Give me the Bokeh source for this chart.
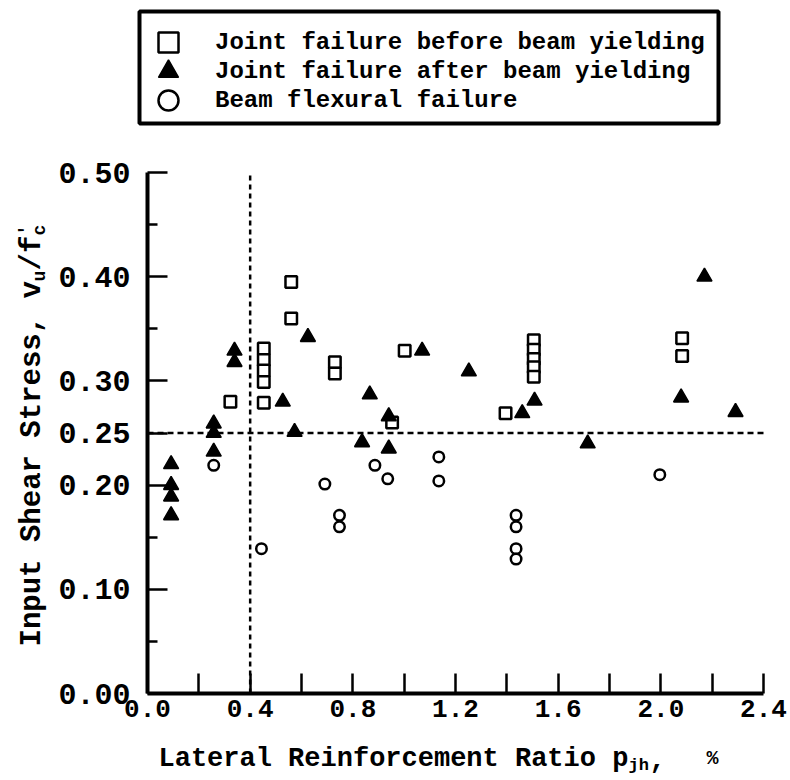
import math
from bokeh.plotting import figure
from bokeh.models import Range1d, FixedTicker, Label, Legend, LegendItem, BoxAnnotation
from bokeh.embed import file_html
from bokeh.resources import INLINE

# ---------------- data ----------------
sq_x = [0.323, 0.453, 0.453, 0.453, 0.453, 0.453, 0.560, 0.560, 0.730, 0.730,
        0.953, 1.002, 1.395, 1.505, 1.505, 1.505, 1.505, 1.505, 2.083, 2.083]
sq_y = [0.280, 0.331, 0.320, 0.310, 0.299, 0.279, 0.395, 0.360, 0.318, 0.307,
        0.260, 0.329, 0.269, 0.339, 0.330, 0.321, 0.313, 0.304, 0.341, 0.324]

tri_x = [0.092, 0.092, 0.092, 0.092, 0.258, 0.258, 0.258, 0.339, 0.339, 0.527,
         0.573, 0.625, 0.836, 0.866, 0.940, 0.940, 1.070, 1.252, 1.460, 1.508,
         1.715, 2.079, 2.170, 2.291]
tri_y = [0.220, 0.200, 0.189, 0.171, 0.259, 0.250, 0.232, 0.329, 0.318, 0.280,
         0.251, 0.342, 0.241, 0.287, 0.266, 0.235, 0.329, 0.309, 0.269, 0.281,
         0.240, 0.284, 0.400, 0.270]

cir_x = [0.258, 0.444, 0.691, 0.748, 0.748, 0.886, 0.936, 1.135, 1.135,
         1.436, 1.436, 1.436, 1.436, 1.996]
cir_y = [0.219, 0.139, 0.201, 0.171, 0.160, 0.219, 0.206, 0.227, 0.204,
         0.171, 0.160, 0.139, 0.129, 0.210]

series_names = ["Joint failure before beam yielding",
                "Joint failure after beam yielding",
                "Beam flexural failure"]

limit_x = 0.4     # vertical dashed reference line
limit_y = 0.25    # horizontal dashed reference line

x_bounds = (0.0, 2.4)
y_bounds = (0.0, 0.5)
x_major = [0.0, 0.4, 0.8, 1.2, 1.6, 2.0, 2.4]
x_major_labels = ["0.0", "0.4", "0.8", "1.2", "1.6", "2.0", "2.4"]
x_minor = [0.2, 0.6, 1.0, 1.4, 1.8, 2.2]
y_major = [0.0, 0.10, 0.20, 0.25, 0.30, 0.40, 0.50]
y_major_labels = ["0.00", "0.10", "0.20", "0.25", "0.30", "0.40", "0.50"]
y_minor = [0.05, 0.15, 0.35, 0.45]

FONT = "Liberation Mono"

# ---------------- layout (pixels) ----------------
W, H = 788, 778
AX_L, AX_R = 147, 763     # pixel columns of x = 0 and x = 2.4
AX_T, AX_B = 172, 693     # pixel rows of y = 0.5 and y = 0
kx = (AX_R - AX_L) / (x_bounds[1] - x_bounds[0])
ky = (AX_B - AX_T) / (y_bounds[1] - y_bounds[0])
x_range = Range1d(x_bounds[0] - AX_L / kx, x_bounds[0] + (W - AX_L) / kx)
y_range = Range1d(y_bounds[0] - (H - AX_B) / ky, y_bounds[0] + AX_B / ky)

p = figure(width=W, height=H, output_backend="svg", toolbar_location=None,
           x_range=x_range, y_range=y_range,
           min_border=0, min_border_left=0, min_border_right=0,
           min_border_top=0, min_border_bottom=0)
p.outline_line_color = None
p.xgrid.grid_line_color = None
p.ygrid.grid_line_color = None
p.background_fill_color = "white"
p.border_fill_color = "white"

# x axis, drawn at y = 0
xa = p.xaxis[0]
xa.fixed_location = y_bounds[0]
xa.bounds = x_bounds
xa.ticker = FixedTicker(ticks=x_major, minor_ticks=x_minor)
xa.major_label_overrides = {v: s for v, s in zip(x_major, x_major_labels)}
xa.axis_line_width = 4
xa.major_tick_in = 20
xa.major_tick_out = 0
xa.minor_tick_in = 20
xa.minor_tick_out = 0
xa.major_tick_line_width = 2.5
xa.minor_tick_line_width = 2.5
xa.major_label_text_font = FONT
xa.major_label_text_font_style = "bold"
xa.major_label_text_font_size = "26px"
xa.major_label_text_color = "black"
xa.major_label_standoff = 6

# y axis, drawn at x = 0
ya = p.yaxis[0]
ya.fixed_location = x_bounds[0]
ya.bounds = y_bounds
ya.ticker = FixedTicker(ticks=y_major, minor_ticks=y_minor)
ya.major_label_overrides = {v: s for v, s in zip(y_major, y_major_labels)}
ya.axis_line_width = 4
ya.major_tick_in = 20
ya.major_tick_out = 0
ya.minor_tick_in = 10
ya.minor_tick_out = 0
ya.major_tick_line_width = 2.5
ya.minor_tick_line_width = 2.5
ya.major_label_text_font = FONT
ya.major_label_text_font_style = "bold"
ya.major_label_text_font_size = "30px"
ya.major_label_text_color = "black"
ya.major_label_standoff = 17

# dashed reference lines across the axis box
p.segment(x0=[limit_x], y0=[y_bounds[0]], x1=[limit_x], y1=[y_bounds[1]],
          line_color="black", line_width=2.5, line_dash="5 4")
p.segment(x0=[x_bounds[0]], y0=[limit_y], x1=[x_bounds[1]], y1=[limit_y],
          line_color="black", line_width=2.5, line_dash="6 4")

# data markers
r_sq = p.scatter(sq_x, sq_y, marker="square", size=11.5, line_color="black",
                 line_width=2.5, fill_color="white")
r_tri = p.scatter(tri_x, tri_y, marker="triangle", size=15, line_color="black",
                  line_width=1.5, fill_color="black")
r_cir = p.scatter(cir_x, cir_y, marker="circle", size=10.5, line_color="black",
                  line_width=2.5, fill_color="white")

# boxed legend above the axes
p.add_layout(BoxAnnotation(left=139, right=718, top=H - 11, bottom=H - 123,
                           left_units="screen", right_units="screen",
                           top_units="screen", bottom_units="screen",
                           fill_color="white", fill_alpha=1.0,
                           line_color="black", line_alpha=1.0, line_width=4))

row_centers = [42, 71, 100]      # pixel rows of the three legend entries
for name, rend, yc in zip(series_names, [r_sq, r_tri, r_cir], row_centers):
    p.add_layout(Legend(items=[LegendItem(label=name, renderers=[rend])],
                        location=(143, H - (yc + 25)), orientation="vertical",
                        glyph_width=50, glyph_height=50, label_height=50,
                        spacing=0, padding=0, margin=0, label_standoff=22,
                        label_text_font=FONT, label_text_font_style="bold",
                        label_text_font_size="24px", label_text_color="black",
                        border_line_color=None,
                        background_fill_alpha=0.0))

# text helper: (px, py) measured from the canvas top-left
def lab(text, px, py, size, angle=0.0):
    p.add_layout(Label(x=px, y=H - py, x_units="screen", y_units="screen",
                       text=text, angle=angle, text_font=FONT,
                       text_font_style="bold", text_font_size=size,
                       text_color="black", text_align="left",
                       text_baseline="alphabetic"))

# x axis title: Lateral Reinforcement Ratio p_jh, %
lab("Lateral Reinforcement Ratio p", 158, 758, "27px")
lab("jh", 628, 765, "17px")
lab(",", 649, 758, "27px")
lab("%", 706, 758, "20px")

# y axis title: Input Shear Stress, v_u/f'_c (rotated, reads bottom to top)
A = math.pi / 2
lab("Input Shear Stress, v", 32, 646, "29px", A)
lab("u", 39, 281, "18px", A)
lab("/f", 32, 270, "29px", A)
lab("'", 25, 235, "18px", A)
lab("c", 39, 235, "18px", A)

open("out.html", "w").write(file_html(p, INLINE))
